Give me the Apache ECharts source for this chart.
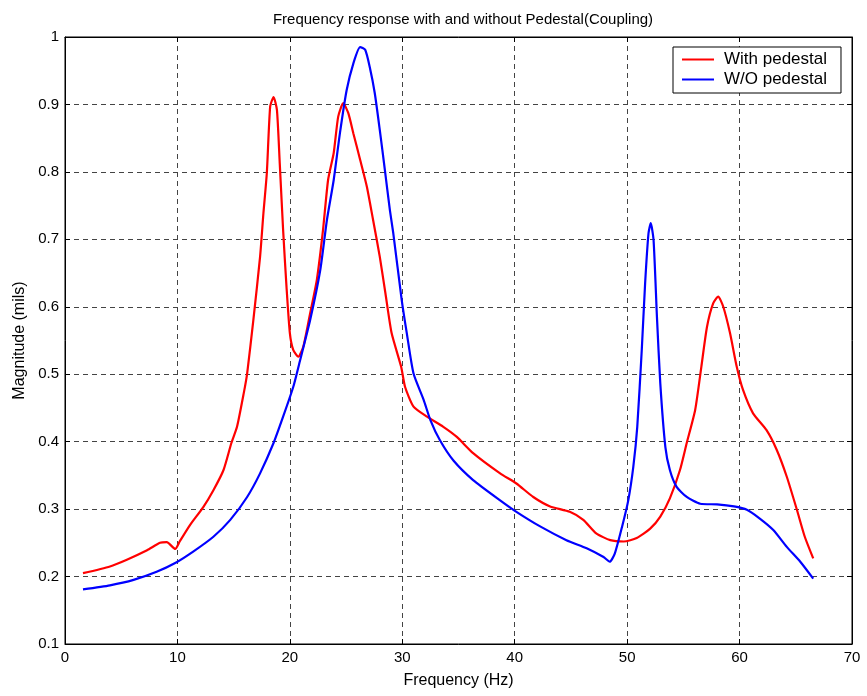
<!DOCTYPE html>
<html>
<head>
<meta charset="utf-8">
<script src="https://cdn.jsdelivr.net/npm/echarts@6/dist/echarts.min.js"></script>
<style>
  html, body { margin: 0; padding: 0; background: #fff; }
  #chart { width: 867px; height: 696px; }
</style>
</head>
<body>
<div id="chart"></div>
<script>
// Frequency (Hz) and magnitude (mils) for the response with the pedestal
const withFreq = [1.6, 4.0, 5.5, 7.3, 8.45, 9.05, 9.8, 10.2, 11.1, 12.3, 13.2, 14.1, 14.8, 15.3, 15.9, 16.2,
  16.75, 17.35, 17.65, 17.95, 18.25, 18.55, 18.85, 19.1, 19.4, 19.7, 20.0, 20.3, 20.75, 21.2, 21.8, 22.4,
  22.95, 23.4, 23.9, 24.3, 24.75, 25.2, 25.65, 26.25, 26.85, 27.4, 28.0, 28.5, 29.05, 29.9, 30.25, 31.0,
  32.2, 33.65, 34.85, 36.3, 38.7, 40.15, 41.65, 43.15, 44.9, 46.1, 47.25, 48.5, 49.7, 50.85, 52.05, 52.95,
  53.8, 54.7, 55.3, 56.05, 56.6, 57.1, 57.65, 58.1, 58.55, 59.15, 59.75, 60.3, 61.2, 62.4, 63.3, 64.2,
  65.1, 65.8, 66.55];
const withMag = [0.205, 0.215, 0.225, 0.239, 0.250, 0.251, 0.241, 0.252, 0.276, 0.303, 0.328, 0.358, 0.398, 0.422, 0.472, 0.501,
  0.580, 0.674, 0.739, 0.798, 0.897, 0.911, 0.892, 0.813, 0.714, 0.630, 0.561, 0.536, 0.526, 0.541, 0.590, 0.640,
  0.714, 0.788, 0.828, 0.882, 0.902, 0.887, 0.857, 0.818, 0.778, 0.729, 0.674, 0.620, 0.561, 0.511, 0.481, 0.452,
  0.437, 0.422, 0.407, 0.383, 0.353, 0.338, 0.318, 0.304, 0.296, 0.284, 0.264, 0.254, 0.252, 0.257, 0.271, 0.289,
  0.316, 0.358, 0.398, 0.447, 0.511, 0.570, 0.605, 0.615, 0.600, 0.561, 0.511, 0.477, 0.442, 0.417, 0.388, 0.348,
  0.299, 0.259, 0.227];

// Frequency (Hz) and magnitude (mils) for the response without the pedestal
const withoutFreq = [1.6, 4.0, 6.1, 8.15, 9.8, 11.4, 13.2, 14.7, 16.2, 17.35, 18.55, 19.4, 20.3, 20.9, 21.8, 22.7,
  23.3, 23.9, 24.45, 25.05, 25.65, 26.25, 26.7, 27.1, 27.55, 28.0, 28.45, 28.9, 29.2, 29.95, 30.4, 31.0,
  31.9, 32.5, 33.35, 34.55, 36.3, 38.7, 40.15, 42.3, 44.6, 46.4, 47.9, 48.45, 48.9, 49.55, 50.1, 50.55,
  50.9, 51.3, 51.6, 51.9, 52.1, 52.35, 52.65, 52.95, 53.4, 53.8, 54.4, 55.3, 56.5, 58.0, 59.5, 60.65,
  61.8, 63.0, 64.2, 65.4, 66.55];
const withoutMag = [0.181, 0.187, 0.195, 0.207, 0.220, 0.237, 0.259, 0.284, 0.318, 0.353, 0.398, 0.437, 0.481, 0.520, 0.580, 0.654,
  0.729, 0.788, 0.857, 0.921, 0.961, 0.985, 0.981, 0.956, 0.917, 0.862, 0.803, 0.743, 0.709, 0.610, 0.561, 0.501,
  0.462, 0.432, 0.402, 0.372, 0.343, 0.313, 0.296, 0.274, 0.254, 0.242, 0.229, 0.222, 0.234, 0.274, 0.313, 0.363,
  0.422, 0.536, 0.635, 0.709, 0.724, 0.699, 0.585, 0.486, 0.392, 0.358, 0.333, 0.318, 0.308, 0.307, 0.304, 0.299,
  0.286, 0.269, 0.244, 0.222, 0.197];

const seriesNames = ['With pedestal', 'W/O pedestal'];
const xTicks = [0, 10, 20, 30, 40, 50, 60, 70];
const yTicks = [0.1, 0.2, 0.3, 0.4, 0.5, 0.6, 0.7, 0.8, 0.9, 1];

const pairs = (xs, ys) => xs.map((x, i) => [x, ys[i]]);

const FONT = '"Liberation Sans", Arial, sans-serif';
const gridDash = { color: '#444', width: 1, type: [5, 4] };
const boxAxis = {
  axisLine: { show: true, onZero: false, lineStyle: { color: '#000' } },
  axisTick: { show: true, inside: true, length: 5, lineStyle: { color: '#000' } }
};

const chart = echarts.init(document.getElementById('chart'), null, { renderer: 'canvas' });
chart.setOption({
  animation: false,
  backgroundColor: '#fff',
  title: {
    text: 'Frequency response with and without Pedestal(Coupling)',
    left: 458, top: 7, textAlign: 'center',
    textStyle: { fontFamily: FONT, fontSize: 15, fontWeight: 'normal', color: '#000' }
  },
  grid: {
    left: 65, right: 15, top: 37, bottom: 52,
    show: true, borderColor: '#000', borderWidth: 1, backgroundColor: '#fff'
  },
  legend: {
    orient: 'vertical',
    left: 673, top: 47,
    padding: [4, 14, 5, 9],
    itemGap: 3,
    itemWidth: 32, itemHeight: 2,
    icon: 'rect',
    backgroundColor: '#fff', borderColor: '#000', borderWidth: 1,
    textStyle: { fontFamily: FONT, fontSize: 17, color: '#000', padding: [0, 0, 0, 5] },
    data: seriesNames
  },
  xAxis: [Object.assign({
    type: 'value', min: xTicks[0], max: xTicks[xTicks.length - 1], interval: 10,
    name: 'Frequency (Hz)', nameLocation: 'middle', nameGap: 29,
    nameTextStyle: { fontFamily: FONT, fontSize: 16, color: '#000' },
    axisLabel: { fontFamily: FONT, fontSize: 15, color: '#000', margin: 6 },
    splitLine: { show: true, lineStyle: gridDash }
  }, boxAxis), Object.assign({
    type: 'value', position: 'top', min: xTicks[0], max: xTicks[xTicks.length - 1], interval: 10,
    axisLabel: { show: false }, splitLine: { show: false }
  }, boxAxis)],
  yAxis: [Object.assign({
    type: 'value', min: yTicks[0], max: yTicks[yTicks.length - 1], interval: 0.1,
    name: 'Magnitude (mils)', nameLocation: 'middle', nameGap: 37,
    nameTextStyle: { fontFamily: FONT, fontSize: 16, color: '#000' },
    axisLabel: { fontFamily: FONT, fontSize: 15, color: '#000', margin: 6,
      formatter: v => String(Math.round(v * 10) / 10) },
    splitLine: { show: true, lineStyle: gridDash }
  }, boxAxis), Object.assign({
    type: 'value', position: 'right', min: yTicks[0], max: yTicks[yTicks.length - 1], interval: 0.1,
    axisLabel: { show: false }, splitLine: { show: false }
  }, boxAxis)],
  series: [{
    name: seriesNames[0], type: 'line', symbol: 'none', smooth: 0.2,
    lineStyle: { color: '#ff0000', width: 2.2 }, itemStyle: { color: '#ff0000' },
    data: pairs(withFreq, withMag)
  }, {
    name: seriesNames[1], type: 'line', symbol: 'none', smooth: 0.2,
    lineStyle: { color: '#0000ff', width: 2.2 }, itemStyle: { color: '#0000ff' },
    data: pairs(withoutFreq, withoutMag)
  }]
});
</script>
</body>
</html>
